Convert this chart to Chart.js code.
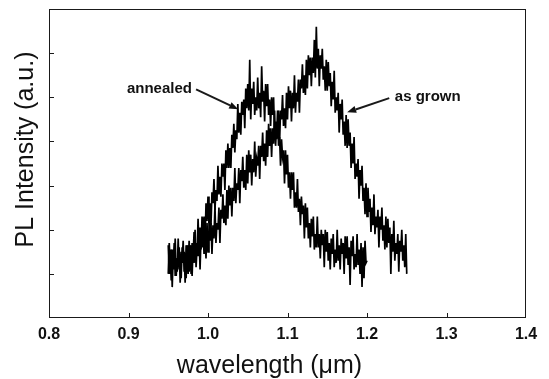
<!DOCTYPE html>
<html>
<head>
<meta charset="utf-8">
<script src="https://cdn.jsdelivr.net/npm/chart.js@4/dist/chart.umd.min.js"></script>
<style>
  html, body { margin: 0; padding: 0; background: #fff; }
  #wrap { width: 549px; height: 379px; }
</style>
</head>
<body>
<div id="wrap"><canvas id="pl"></canvas></div>
<script>
// PL spectra (arbitrary units)
const waveStart = 0.95;      // um, first sample of both curves
const waveStep = 0.00125;    // um between samples
const xTicks = [0.8, 0.9, 1.0, 1.1, 1.2, 1.3, 1.4];
const yTicks = [1, 2, 3, 4, 5, 6];

const annealed = [
  1.65, 1.0, 1.4, 0.85, 1.55, 1.2, 1.7, 0.95, 1.35, 1.05,
  1.8, 1.1, 1.45, 0.9, 1.6, 1.25, 1.5, 0.8, 1.65, 1.15,
  1.65, 1.05, 1.5, 1.0, 1.7, 1.4, 1.95, 1.25, 1.7, 1.45,
  2.25, 1.6, 2.05, 1.55, 2.3, 2.0, 2.3, 1.7, 2.6, 2.2,
  2.75, 2.15, 2.6, 2.1, 2.85, 2.6, 3.15, 2.45, 2.9, 2.65,
  3.45, 2.8, 3.2, 2.75, 3.5, 3.2, 3.5, 2.9, 3.8, 3.4,
  3.95, 3.4, 3.85, 3.4, 4.15, 3.85, 4.4, 3.75, 4.25, 4.05,
  4.85, 4.2, 4.65, 4.15, 4.9, 4.6, 4.95, 4.3, 5.2, 4.75,
  5.3, 4.7, 5.85, 4.5, 5.2, 4.85, 5.35, 4.6, 5.0, 4.7,
  5.45, 4.75, 5.1, 4.55, 5.7, 4.9, 5.15, 4.45, 5.3, 4.8,
  5.3, 4.6, 4.95, 4.35, 5.0, 4.6, 5.0, 4.15, 4.45, 4.05,
  4.7, 3.9, 4.1, 3.45, 4.05, 3.65, 3.8, 3.05, 3.8, 3.25,
  3.7, 2.95, 3.3, 2.7, 3.3, 2.9, 3.3, 2.5, 2.85, 2.5,
  3.15, 2.4, 2.7, 2.1, 2.75, 2.35, 2.55, 1.8, 2.6, 2.05,
  2.5, 1.8, 2.15, 1.6, 2.25, 1.85, 2.3, 1.55, 1.9, 1.6,
  2.3, 1.6, 1.9, 1.35, 2.0, 1.65, 1.9, 1.15, 2.0, 1.5,
  1.95, 1.3, 1.7, 1.1, 1.8, 1.45, 1.9, 1.15, 1.55, 1.25,
  2.0, 1.3, 1.65, 1.1, 1.8, 1.45, 1.7, 1.0, 1.85, 1.35,
  1.85, 1.2, 1.6, 0.75, 1.75, 1.4, 1.85, 1.1, 1.45, 1.15,
  1.9, 1.2, 1.55, 1.0, 1.7, 0.7, 1.6, 0.9, 1.75, 1.25,
  1.3
];

const asGrown = [
  1.0, 1.7, 1.2, 1.55, 0.7, 1.45, 1.1, 1.8, 0.95, 1.35,
  1.15, 1.6, 0.8, 1.5, 1.25, 1.75, 1.05, 1.4, 0.9, 1.65,
  1.0, 1.75, 1.25, 1.65, 0.95, 1.6, 1.25, 2.0, 1.15, 1.6,
  1.4, 1.9, 1.1, 1.85, 1.6, 2.1, 1.45, 1.85, 1.35, 2.15,
  1.5, 2.25, 1.75, 2.15, 1.45, 2.1, 1.8, 2.55, 1.7, 2.15,
  2.0, 2.5, 1.7, 2.45, 2.25, 2.8, 2.15, 2.55, 2.1, 2.9,
  2.25, 3.0, 2.55, 2.95, 2.3, 2.95, 2.65, 3.4, 2.6, 3.05,
  2.9, 3.4, 2.6, 3.35, 3.1, 3.65, 2.95, 3.35, 2.9, 3.7,
  3.05, 3.8, 3.3, 3.7, 3.0, 3.6, 3.3, 4.0, 3.2, 3.6,
  3.45, 3.9, 3.15, 3.9, 3.65, 4.2, 3.55, 3.95, 3.45, 4.25,
  3.65, 4.4, 3.9, 4.3, 3.65, 4.3, 3.95, 4.7, 3.9, 4.35,
  4.2, 4.7, 3.95, 4.7, 4.5, 5.05, 4.35, 4.75, 4.3, 5.1,
  4.5, 5.25, 4.75, 5.15, 4.45, 5.1, 4.75, 5.5, 4.65, 5.1,
  4.9, 5.4, 4.65, 5.4, 5.2, 5.75, 5.1, 5.5, 5.05, 5.85,
  5.2, 5.95, 5.5, 5.9, 5.25, 5.9, 5.55, 6.3, 5.45, 6.6,
  5.65, 6.1, 5.25, 5.95, 5.65, 6.1, 5.4, 5.7, 5.15, 5.85,
  5.15, 5.8, 5.25, 5.55, 4.8, 5.35, 4.95, 5.6, 4.65, 5.0,
  4.7, 5.1, 4.2, 4.85, 4.5, 4.95, 4.15, 4.45, 3.9, 4.6,
  3.85, 4.5, 3.9, 4.2, 3.4, 3.95, 3.5, 4.1, 3.15, 3.5,
  3.2, 3.6, 2.7, 3.35, 3.0, 3.45, 2.65, 2.95, 2.35, 3.05,
  2.3, 2.95, 2.4, 2.7, 1.95, 2.5, 2.1, 2.8, 1.9, 2.3,
  2.05, 2.45, 1.6, 2.3, 2.0, 2.5, 1.75, 2.1, 1.55, 2.3,
  1.6, 2.25, 1.7, 2.05, 1.0, 1.9, 1.5, 2.2, 1.3, 1.7,
  1.45, 1.9, 1.05, 1.75, 1.5, 2.0, 1.3, 1.65, 1.15, 1.9,
  1.0
];

// labels with arrows, in data units
const notes = [
  { text: 'annealed', at: [0.898, 5.18], from: [0.985, 5.18], to: [1.038, 4.73] },
  { text: 'as grown', at: [1.235, 5.02], from: [1.228, 4.98], to: [1.175, 4.66] }
];

const FONT = '"Liberation Sans", Arial, sans-serif';

function toPoints(vals) {
  return vals.map((v, i) => ({ x: +(waveStart + i * waveStep).toFixed(5), y: v }));
}

function arrow(ctx, x1, y1, x2, y2) {
  const ang = Math.atan2(y2 - y1, x2 - x1);
  const len = 9, half = 3.5;
  const bx = x2 - len * Math.cos(ang), by = y2 - len * Math.sin(ang);
  ctx.beginPath();
  ctx.moveTo(x1, y1);
  ctx.lineTo(bx, by);
  ctx.lineWidth = 2;
  ctx.stroke();
  ctx.beginPath();
  ctx.moveTo(x2, y2);
  ctx.lineTo(bx + half * Math.sin(ang), by - half * Math.cos(ang));
  ctx.lineTo(bx - half * Math.sin(ang), by + half * Math.cos(ang));
  ctx.closePath();
  ctx.fill();
}

const framePlugin = {
  id: 'frame',
  afterDraw(chart) {
    const { ctx, chartArea: a, scales: { x, y } } = chart;
    ctx.save();
    ctx.strokeStyle = '#1a1a1a';
    ctx.fillStyle = '#111';
    ctx.lineWidth = 1;
    ctx.strokeRect(a.left + 0.5, a.top + 0.5, a.right - a.left - 1, a.bottom - a.top - 1);

    // inward ticks
    ctx.beginPath();
    xTicks.slice(1, -1).forEach(v => {
      const px = Math.round(x.getPixelForValue(v)) + 0.5;
      ctx.moveTo(px, a.bottom);
      ctx.lineTo(px, a.bottom - 5);
    });
    yTicks.forEach(v => {
      const py = Math.round(y.getPixelForValue(v)) + 0.5;
      ctx.moveTo(a.left, py);
      ctx.lineTo(a.left + 5, py);
    });
    ctx.stroke();

    // axis titles
    ctx.font = '25px ' + FONT;
    ctx.textAlign = 'center';
    ctx.textBaseline = 'middle';
    ctx.fillText('wavelength (\u03bcm)', (a.left + a.right) / 2 - 18, 366);
    ctx.save();
    ctx.translate(a.left - 23, (a.top + a.bottom) / 2 - 14);
    ctx.rotate(-Math.PI / 2);
    ctx.fillText('PL Intensity (a.u.)', 0, 0);
    ctx.restore();

    // annotations
    ctx.font = 'bold 15px ' + FONT;
    ctx.textAlign = 'left';
    notes.forEach(n => {
      ctx.fillText(n.text, x.getPixelForValue(n.at[0]), y.getPixelForValue(n.at[1]));
      arrow(ctx,
        x.getPixelForValue(n.from[0]), y.getPixelForValue(n.from[1]),
        x.getPixelForValue(n.to[0]), y.getPixelForValue(n.to[1]));
    });
    ctx.restore();
  }
};

new Chart(document.getElementById('pl'), {
  type: 'line',
  data: {
    datasets: [
      { label: 'annealed', data: toPoints(annealed), borderColor: '#000', borderWidth: 1.7, pointRadius: 0, tension: 0 },
      { label: 'as grown', data: toPoints(asGrown), borderColor: '#000', borderWidth: 1.7, pointRadius: 0, tension: 0 }
    ]
  },
  options: {
    responsive: true, maintainAspectRatio: false, animation: false,
    layout: { padding: { top: 9, right: 23, left: 0, bottom: 0 } },
    plugins: { legend: { display: false }, tooltip: { enabled: false } },
    scales: {
      x: {
        type: 'linear', min: 0.8, max: 1.4,
        afterFit: s => { s.height = 61; },
        afterBuildTicks: s => { s.ticks = xTicks.map(v => ({ value: v })); },
        grid: { display: false, drawTicks: false },
        border: { display: false },
        ticks: { color: '#111', padding: 7, font: { family: FONT, size: 16, weight: 'bold' }, callback: v => v.toFixed(1) }
      },
      y: {
        min: 0, max: 7,
        afterFit: s => { s.width = 49; },
        grid: { display: false, drawTicks: false },
        border: { display: false },
        ticks: { display: false }
      }
    }
  },
  plugins: [framePlugin]
});
</script>
</body>
</html>
